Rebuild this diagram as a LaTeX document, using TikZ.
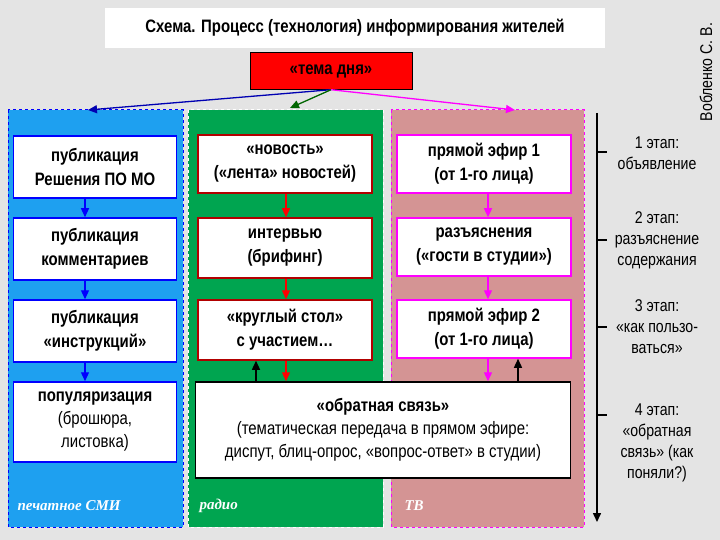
\documentclass[tikz,border=0pt]{standalone}
\usepackage{fontspec}
\setmainfont{Liberation Sans}[FakeStretch=0.83]
\newfontfamily\serifit{Liberation Serif}
\usetikzlibrary{arrows.meta}
\definecolor{bg}{HTML}{E4E4E4}
\definecolor{cblue}{HTML}{1EA0F0}
\definecolor{cgreen}{HTML}{00A550}
\definecolor{cpink}{HTML}{D49494}
\definecolor{cmag}{HTML}{FF00FF}
\begin{document}
\begin{tikzpicture}[x=1pt,y=-1pt,
  bx/.style={draw=#1,line width=1.5pt,fill=white,align=center,font=\fontsize{18}{24}\selectfont\bfseries},
  lbl/.style={text=white,font=\serifit\itshape\bfseries\fontsize{15}{16}\selectfont,anchor=west},
  stg/.style={align=center,font=\fontsize{17}{21}\selectfont},
  arr/.style={-{Triangle[length=9pt,width=8pt]},line width=1.3pt}]
\useasboundingbox (0,0) rectangle (720,540);
\fill[bg] (0,0) rectangle (720,540);
\node[draw=none,fill=white,minimum width=500,minimum height=40,font=\fontsize{18}{20}\selectfont\bfseries] (title) at (355,28) {Схема. Процесс (технология) информирования жителей};
\node[rotate=90,font=\fontsize{17}{18}\selectfont] (auth) at (706,72) {Вобленко С. В.};
\node[draw=black,fill=red,minimum width=162,minimum height=37,font=\fontsize{18}{20}\selectfont\bfseries] (tema) at (331,71) {«тема дня»};
% columns
\draw[dashed,draw=blue,fill=cblue,line width=1pt] (8,110) rectangle (183,527);
\draw[dashed,draw=white,fill=cgreen,line width=1pt] (188,110) rectangle (383,527);
\draw[dashed,draw=cmag,fill=cpink,line width=1pt] (391,110) rectangle (584,527);
\coordinate (cb) at (88,110); \coordinate (cg) at (290,108); \coordinate (cp) at (515,110);
\draw[arr,blue!70!black] (tema.south) -- (cb);
\draw[arr,green!40!black] (tema.south) -- (cg);
\draw[arr,cmag] (tema.south) -- (cp);
% blue column
\node[bx=blue,minimum width=163,minimum height=62] (b1) at (95,167) {публикация\\Решения ПО МО};
\node[bx=blue,minimum width=163,minimum height=62] (b2) at (95,249) {публикация\\комментариев};
\node[bx=blue,minimum width=163,minimum height=62] (b3) at (95,331) {публикация\\«инструкций»};
\node[bx=blue,minimum width=163,minimum height=80,font=\fontsize{18}{23}\selectfont] (b4) at (95,422) {\textbf{популяризация}\\(брошюра,\\листовка)};
\foreach \a/\b in {b1/b2,b2/b3,b3/b4} \draw[arr,blue] (\a.south -| 85,0) -- (\b.north -| 85,0);
% green column
\node[bx=red!70!black,minimum width=174,minimum height=58] (g1) at (285,164) {«новость»\\(«лента» новостей)};
\node[bx=red!70!black,minimum width=174,minimum height=60] (g2) at (285,248) {интервью\\(брифинг)};
\node[bx=red!70!black,minimum width=174,minimum height=60] (g3) at (285,330) {«круглый стол»\\с участием…};
% pink column
\node[bx=cmag,minimum width=174,minimum height=58] (p1) at (484,164) {прямой эфир 1\\(от 1-го лица)};
\node[bx=cmag,minimum width=174,minimum height=58] (p2) at (484,247) {разъяснения\\(«гости в студии»)};
\node[bx=cmag,minimum width=174,minimum height=58] (p3) at (484,329) {прямой эфир 2\\(от 1-го лица)};
% feedback
\node[bx=black,minimum width=375,minimum height=96,font=\fontsize{18}{23}\selectfont] (fb) at (383,430) {\textbf{«обратная связь»}\\(тематическая передача в прямом эфире:\\диспут, блиц-опрос, «вопрос-ответ» в студии)};
\foreach \a/\b in {g1/g2,g2/g3,g3/fb} \draw[arr,red] (\a.south -| 286,0) -- (\b.north -| 286,0);
\foreach \a/\b in {p1/p2,p2/p3,p3/fb} \draw[arr,cmag] (\a.south -| 488,0) -- (\b.north -| 488,0);
\draw[arr,black] (fb.north -| 256,0) -- (g3.south -| 256,0);
\draw[arr,black] (fb.north -| 518,0) -- (p3.south -| 518,0);
\node[lbl] (l1) at (14,506) {печатное СМИ};
\node[lbl] (l2) at (196,506) {радио};
\node[lbl] (l3) at (401,506) {ТВ};
% stages
\coordinate (ts) at (597,113); \coordinate (te) at (597,522);
\draw[arr,black,line width=1.5pt] (ts) -- (te);
\foreach \y in {152,240,327,415} \draw[line width=1.2pt] (597,\y) -- (607,\y);
\node[stg] (s1) at (657,153) {1 этап:\\объявление};
\node[stg] (s2) at (657,240) {2 этап:\\разъяснение\\содержания};
\node[stg] (s3) at (657,327) {3 этап:\\«как пользо-\\ваться»};
\node[stg] (s4) at (657,443) {4 этап:\\«обратная\\связь» (как\\поняли?)};
\end{tikzpicture}
\end{document}
